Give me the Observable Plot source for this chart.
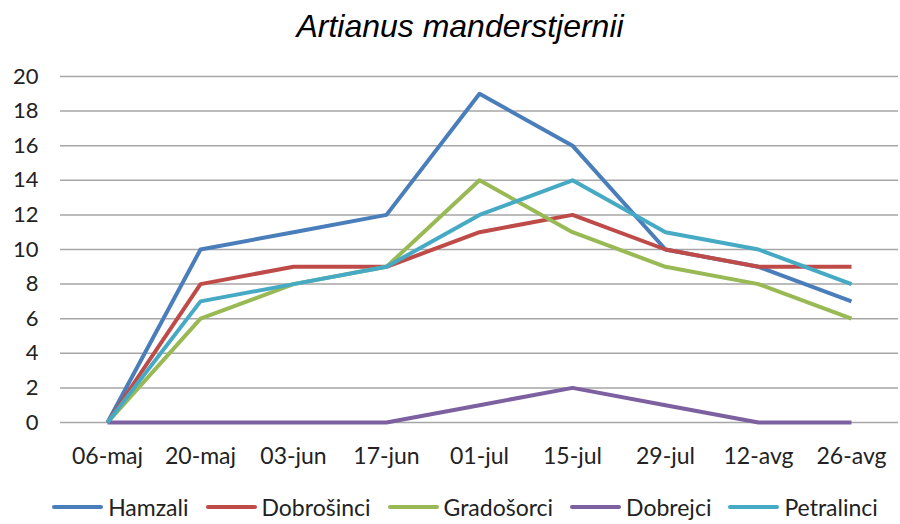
<!DOCTYPE html>
<html>
<head>
<meta charset="utf-8">
<script src="https://cdn.jsdelivr.net/npm/d3@7"></script>
<script src="https://cdn.jsdelivr.net/npm/@observablehq/plot@0.6"></script>
<style>
  html, body { margin: 0; padding: 0; background: #fff; }
  #wrap { width: 900px; height: 524px; position: relative; overflow: hidden; font-family: Lato, "Open Sans", sans-serif; }
  #title { height: 50px; text-align: center; padding-left: 20px; font-family: "Liberation Sans", Arial, sans-serif; font-style: italic; font-size: 32px; line-height: 52px; color: #000; }
  #legend { display: flex; justify-content: center; align-items: center; gap: 17px; font-size: 23px; color: #222; margin-top: 13px; padding-left: 30px; }
  .item { display: flex; align-items: center; gap: 5px; }
  .swatch { width: 51px; height: 4px; border-radius: 2px; }
</style>
</head>
<body>
<div id="wrap">
  <div id="title">Artianus manderstjernii</div>
  <div id="chart"></div>
  <div id="legend"></div>
</div>
<script>
const dates = ["06-maj", "20-maj", "03-jun", "17-jun", "01-jul", "15-jul", "29-jul", "12-avg", "26-avg"];
const seriesNames = ["Hamzali", "Dobrošinci", "Gradošorci", "Dobrejci", "Petralinci"];
const colors = ["#4A7EBB", "#BE4B48", "#98B954", "#7D60A0", "#46AAC5"];
const hamzali    = [0, 10, 11, 12, 19, 16, 10, 9, 7];
const dobrosinci = [0, 8, 9, 9, 11, 12, 10, 9, 9];
const gradosorci = [0, 6, 8, 9, 14, 11, 9, 8, 6];
const dobrejci   = [0, 0, 0, 0, 1, 2, 1, 0, 0];
const petralinci = [0, 7, 8, 9, 12, 14, 11, 10, 8];
const yTicks = [0, 2, 4, 6, 8, 10, 12, 14, 16, 18, 20];

const allValues = [hamzali, dobrosinci, gradosorci, dobrejci, petralinci];
const data = [];
seriesNames.forEach((name, i) => {
  dates.forEach((d, j) => data.push({series: name, date: d, value: allValues[i][j]}));
});

const chart = Plot.plot({
  width: 900,
  height: 430,
  marginTop: 26,
  marginBottom: 58,
  marginLeft: 60,
  marginRight: 2,
  style: {fontFamily: "Lato, 'Open Sans', sans-serif", fontSize: "22px", color: "#222", background: "#fff"},
  x: {type: "point", domain: dates, padding: 0.5, label: null},
  y: {domain: [0, 20], ticks: yTicks, label: null},
  color: {domain: seriesNames, range: colors},
  marks: [
    Plot.ruleY(yTicks, {stroke: "#a6a6a6", strokeWidth: 1.5, strokeOpacity: 1}),
    Plot.axisY({ticks: yTicks, tickSize: 0, tickPadding: 22, fontSize: 22, label: null}),
    Plot.axisX({tickSize: 0, tickPadding: 25, fontSize: 23, label: null}),
    Plot.line(data, {x: "date", y: "value", z: "series", stroke: "series", strokeWidth: 4, strokeLinejoin: "round", strokeLinecap: "butt"})
  ]
});
document.getElementById("chart").appendChild(chart);

const legend = document.getElementById("legend");
seriesNames.forEach((name, i) => {
  const item = document.createElement("div");
  item.className = "item";
  const sw = document.createElement("div");
  sw.className = "swatch";
  sw.style.background = colors[i];
  const label = document.createElement("span");
  label.textContent = name;
  item.appendChild(sw);
  item.appendChild(label);
  legend.appendChild(item);
});
</script>
</body>
</html>
